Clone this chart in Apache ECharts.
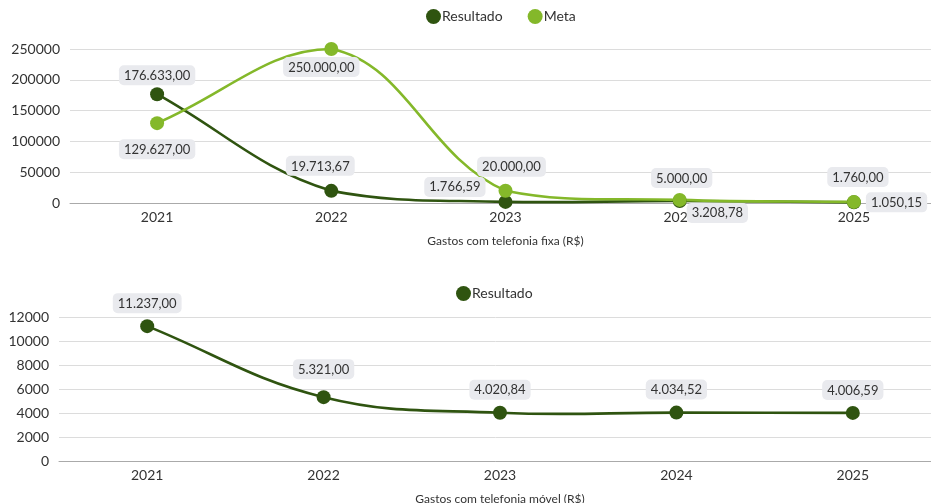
<!DOCTYPE html>
<html>
<head>
<meta charset="utf-8">
<script src="https://cdn.jsdelivr.net/npm/echarts@6/dist/echarts.min.js"></script>
<style>
  html, body { margin: 0; padding: 0; background: #fff; }
  #chart { width: 931px; height: 503px; }
</style>
</head>
<body>
<div id="chart"></div>
<script>
// ---- Data ----
const categories = ['2021', '2022', '2023', '2024', '2025'];
const fixaResultado = [176633.00, 19713.67, 1766.59, 3208.78, 1050.15];
const fixaMeta = [129627.00, 250000.00, 20000.00, 5000.00, 1760.00];
const movelResultado = [11237.00, 5321.00, 4020.84, 4034.52, 4006.59];
const fixaTicks = { min: 0, max: 250000, interval: 50000 };
const movelTicks = { min: 0, max: 12000, interval: 2000 };

// ---- Label placement (style, not data) ----
const fixaResultadoLabels = [
  { position: 'top', distance: 2 },
  { position: 'top', distance: 8, offset: [-11, 0] },
  { position: 'left', distance: 9, offset: [-4, -15] },
  { position: 'right', distance: 0, offset: [0, 12] },
  { position: 'right', distance: 5, offset: [0, 0] }
];
const fixaMetaLabels = [
  { position: 'bottom', distance: 9 },
  { position: 'bottom', distance: 1, offset: [-10, 0] },
  { position: 'top', distance: 7, offset: [6, 0] },
  { position: 'top', distance: 5, offset: [2, 0] },
  { position: 'top', distance: 8, offset: [4, 0] }
];
const movelResultadoLabels = [
  { position: 'top', distance: 6 },
  { position: 'top', distance: 11 },
  { position: 'top', distance: 6 },
  { position: 'top', distance: 6 },
  { position: 'top', distance: 6 }
];

const DARK = '#2f5410';
const LIGHT = '#84b82a';
const FONT = 'Lato';
const TENSION = 0.4;

function fmt(v) {
  return v.toLocaleString('pt-BR', { minimumFractionDigits: 2, maximumFractionDigits: 2 });
}
function withLabels(values, labels) {
  return values.map((v, i) => ({ value: v, label: labels[i] }));
}

// Spline (distance-weighted cardinal, control points capped to the plot area),
// positioned through the axes' own coordinate conversion (api.coord)
function splineSeries(values, ticks, color, xIdx, yIdx, z) {
  return {
    type: 'custom',
    xAxisIndex: xIdx, yAxisIndex: yIdx,
    coordinateSystem: 'cartesian2d',
    silent: true,
    z: z,
    encode: { x: 0, y: 1 },
    data: values.map((v, i) => [i, v]),
    renderItem: function (params, api) {
      const i = params.dataIndex;
      const n = values.length;
      if (i >= n - 1) return null;
      const P = values.map((v, k) => api.coord([k, v]));
      const yTop = api.coord([0, ticks.max])[1];
      const yBottom = api.coord([0, ticks.min])[1];
      const capY = y => Math.min(yBottom, Math.max(yTop, y));
      function ctrl(k) {
        const cur = P[k];
        const prev = k > 0 ? P[k - 1] : cur;
        const next = k < n - 1 ? P[k + 1] : cur;
        const d01 = Math.hypot(cur[0] - prev[0], cur[1] - prev[1]);
        const d12 = Math.hypot(next[0] - cur[0], next[1] - cur[1]);
        const sum = d01 + d12 || 1;
        const fa = TENSION * d01 / sum, fb = TENSION * d12 / sum;
        return {
          prev: [cur[0] - fa * (next[0] - prev[0]), capY(cur[1] - fa * (next[1] - prev[1]))],
          next: [cur[0] + fb * (next[0] - prev[0]), capY(cur[1] + fb * (next[1] - prev[1]))]
        };
      }
      const c0 = ctrl(i), c1 = ctrl(i + 1);
      return {
        type: 'bezierCurve',
        shape: {
          x1: P[i][0], y1: P[i][1], x2: P[i + 1][0], y2: P[i + 1][1],
          cpx1: c0.next[0], cpy1: c0.next[1], cpx2: c1.prev[0], cpy2: c1.prev[1]
        },
        style: { stroke: color, lineWidth: 2.6, fill: null, lineCap: 'round' }
      };
    }
  };
}

const labelStyle = {
  show: true,
  formatter: p => fmt(p.value),
  color: '#333',
  fontFamily: FONT,
  fontSize: 13,
  backgroundColor: '#e9eaee',
  borderRadius: 5,
  padding: [4, 5, 3, 5]
};

const xAxisBase = {
  type: 'category',
  data: categories,
  boundaryGap: true,
  axisTick: { show: false },
  axisLine: { lineStyle: { color: '#aaa' } },
  axisLabel: { color: '#333', fontFamily: FONT, fontSize: 14, margin: 7 },
  nameLocation: 'middle',
  nameTextStyle: { color: '#333', fontFamily: FONT, fontSize: 12 }
};
const yAxisBase = {
  type: 'value',
  axisLine: { show: false },
  axisTick: { show: false },
  splitLine: { lineStyle: { color: '#dcdcdc' } },
  axisLabel: { color: '#333', fontFamily: FONT, fontSize: 14, margin: 10, formatter: v => String(v) }
};

function markerSeries(name, values, labels, color, xIdx, yIdx, z) {
  return {
    name: name, type: 'line', xAxisIndex: xIdx, yAxisIndex: yIdx,
    symbol: 'circle', symbolSize: 14, showSymbol: true,
    lineStyle: { width: 0, opacity: 0 }, itemStyle: { color: color },
    label: labelStyle, z: z,
    data: withLabels(values, labels)
  };
}

const chart = echarts.init(document.getElementById('chart'));
chart.setOption({
  animation: false,
  legend: [
    {
      data: ['Resultado', 'Meta'],
      top: 4,
      left: 421,
      icon: 'circle',
      itemWidth: 15,
      itemHeight: 15,
      itemGap: 25,
      textStyle: { color: '#333', fontFamily: FONT, fontSize: 14, padding: [0, 0, 0, -4] }
    },
    {
      data: ['Resultado'],
      top: 281,
      left: 451,
      icon: 'circle',
      itemWidth: 15,
      itemHeight: 15,
      textStyle: { color: '#333', fontFamily: FONT, fontSize: 14, padding: [0, 0, 0, -4] }
    }
  ],
  grid: [
    { left: 70, width: 871, top: 49, height: 154, outerBoundsMode: 'none', containLabel: false },
    { left: 59, width: 882, top: 317, height: 144, outerBoundsMode: 'none', containLabel: false }
  ],
  xAxis: [
    Object.assign({}, xAxisBase, { gridIndex: 0, name: 'Gastos com telefonia fixa (R$)', nameGap: 32 }),
    Object.assign({}, xAxisBase, { gridIndex: 1, name: 'Gastos com telefonia móvel (R$)', nameGap: 32 })
  ],
  yAxis: [
    Object.assign({}, yAxisBase, { gridIndex: 0 }, fixaTicks),
    Object.assign({}, yAxisBase, { gridIndex: 1 }, movelTicks)
  ],
  series: [
    splineSeries(fixaResultado, fixaTicks, DARK, 0, 0, 2),
    splineSeries(fixaMeta, fixaTicks, LIGHT, 0, 0, 3),
    splineSeries(movelResultado, movelTicks, DARK, 1, 1, 2),
    markerSeries('Resultado', fixaResultado, fixaResultadoLabels, DARK, 0, 0, 4),
    markerSeries('Meta', fixaMeta, fixaMetaLabels, LIGHT, 0, 0, 5),
    markerSeries('Resultado', movelResultado, movelResultadoLabels, DARK, 1, 1, 4)
  ]
});
</script>
</body>
</html>
